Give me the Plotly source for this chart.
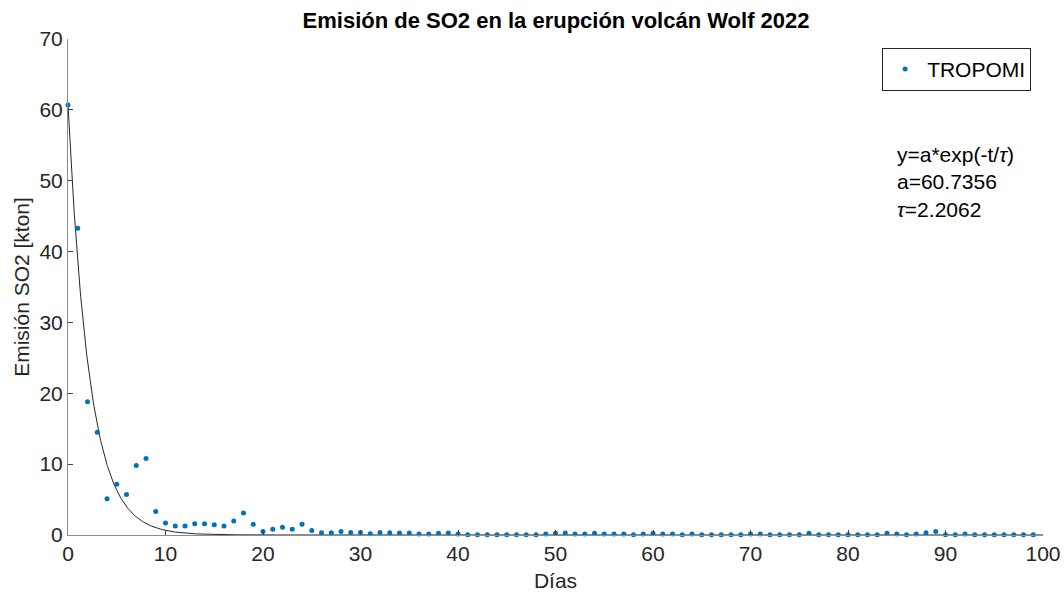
import numpy as np
import plotly.graph_objects as go

dias = list(range(100))
emision = [60.7, 43.3, 18.8, 14.5, 5.1, 7.15, 5.7, 9.8, 10.8, 3.3,
           1.7, 1.27, 1.27, 1.6, 1.6, 1.45, 1.27, 1.97, 3.1, 1.5,
           0.5, 0.8, 1.1, 0.8, 1.5, 0.65, 0.3, 0.3, 0.5, 0.37,
           0.37, 0.19, 0.37, 0.33, 0.28, 0.28, 0.14, 0.14, 0.23, 0.28,
           0.14, 0.05, 0.05, 0.05, 0.05, 0.05, 0.05, 0.05, 0.05, 0.14,
           0.23, 0.28, 0.14, 0.14, 0.23, 0.14, 0.14, 0.14, 0.05, 0.14,
           0.23, 0.14, 0.14, 0.05, 0.14, 0.05, 0.05, 0.05, 0.05, 0.05,
           0.14, 0.14, 0.05, 0.05, 0.05, 0.05, 0.23, 0.05, 0.05, 0.05,
           0.05, 0.05, 0.05, 0.05, 0.23, 0.14, 0.05, 0.14, 0.33, 0.5,
           0.05, 0.05, 0.14, 0.05, 0.05, 0.05, 0.05, 0.05, 0.05, 0.05]

a_fit = 60.7356
tau_fit = 2.2062

x_ticks = list(range(0, 101, 10))
y_ticks = list(range(0, 71, 10))

t_fit = np.linspace(0, 100, 2001)
y_fit = a_fit * np.exp(-t_fit / tau_fit)

fig = go.Figure()
fig.add_trace(go.Scatter(x=t_fit, y=y_fit, mode="lines",
                         line=dict(color="#262626", width=1), showlegend=False,
                         hoverinfo="skip"))
fig.add_trace(go.Scatter(x=dias, y=emision, mode="markers", name="TROPOMI",
                         marker=dict(color="#0072BD", size=5), cliponaxis=False))

font_family = "Liberation Sans, Arial, sans-serif"
axis_common = dict(showgrid=False, zeroline=False, showline=True, linecolor="#8c8c8c",
                   linewidth=1, ticks="inside", ticklen=5, tickcolor="#404040",
                   tickfont=dict(size=21, color="#262626", family=font_family),
                   mirror=False, automargin=False)

fig.update_layout(
    width=1064, height=597,
    paper_bgcolor="white", plot_bgcolor="white",
    margin=dict(l=68, r=21, t=39, b=62),
    font=dict(family=font_family, color="#262626"),
    title=dict(text="<b>Emisión de SO2 en la erupción volcán Wolf 2022</b>",
               x=0.5226, xanchor="center", y=0.966, yanchor="middle",
               font=dict(size=22, color="#000000")),
    xaxis=dict(range=[0, 100], tickvals=x_ticks,
               title=dict(text="Días", font=dict(size=21), standoff=9), **axis_common),
    yaxis=dict(range=[0, 70], tickvals=y_ticks,
               title=dict(text="Emisión SO2 [kton]", font=dict(size=21), standoff=4), **axis_common),
    legend=dict(x=0.835, y=0.982, xanchor="left", yanchor="top",
                bordercolor="#262626", borderwidth=1, bgcolor="white",
                font=dict(size=21, color="#000000"), itemwidth=34),
    annotations=[dict(x=0.848, y=0.795, xref="paper", yref="paper",
                      xanchor="left", yanchor="top", align="left", showarrow=False,
                      text="y=a*exp(-t/<i>τ</i>)<br>a=60.7356<br><i>τ</i>=2.2062",
                      font=dict(size=21, color="#000000"))],
)

fig.write_html("out.html")
